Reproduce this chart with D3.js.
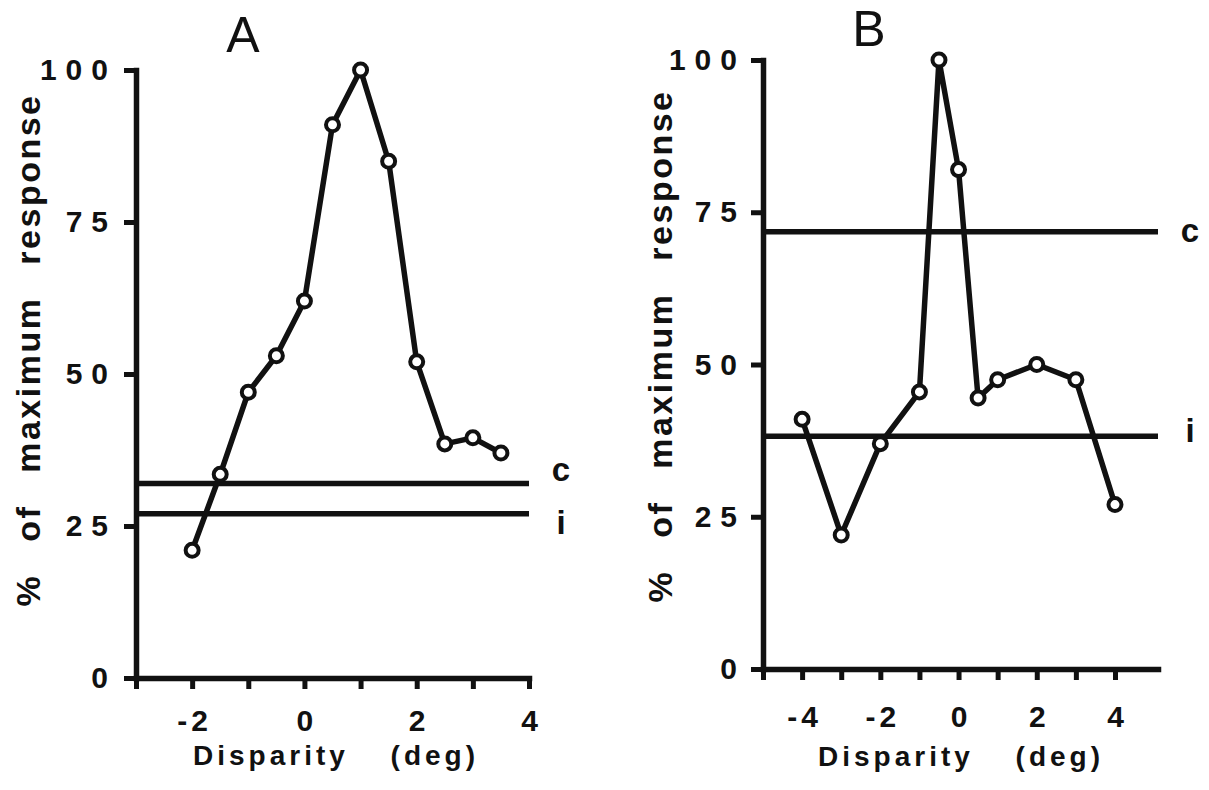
<!DOCTYPE html>
<html>
<head>
<meta charset="utf-8">
<script src="https://cdn.jsdelivr.net/npm/d3@7"></script>
<style>
  html, body { margin: 0; padding: 0; background: #fff; }
  svg { display: block; }
  text { font-family: "Liberation Sans", Arial, Helvetica, sans-serif; fill: #111; }
</style>
</head>
<body>
<script>
// Disparity tuning curves: normalised response vs. binocular disparity
const disparityA = [-2, -1.5, -1, -0.5, 0, 0.5, 1, 1.5, 2, 2.5, 3, 3.5];
const responseA  = [21, 33.5, 47, 53, 62, 91, 100, 85, 52, 38.5, 39.5, 37];

const disparityB = [-4, -3, -2, -1, -0.5, 0, 0.5, 1, 2, 3, 4];
const responseB  = [41, 22, 37, 45.5, 100, 82, 44.5, 47.5, 50, 47.5, 27];

// monocular reference levels: contralateral (c) and ipsilateral (i) eye
const refNames   = ["c", "i"];
const refLevelsA = [32, 27];
const refLevelsB = [71.8, 38.2];

// axis ticks and labels
const yTicks   = [0, 25, 50, 75, 100];
const xTicksA  = [-3, -2, -1, 0, 1, 2, 3, 4];
const xLabelsA = [-2, 0, 2, 4];
const xTicksB  = [-5, -4, -3, -2, -1, 0, 1, 2, 3, 4];
const xLabelsB = [-4, -2, 0, 2, 4];

const W = 1209, H = 790;
const ink = "#111";

const svg = d3.select("body").append("svg")
  .attr("width", W).attr("height", H)
  .attr("viewBox", `0 0 ${W} ${H}`);

function drawPanel(cfg) {
  const g = svg.append("g");
  const x = d3.scaleLinear().domain(cfg.xDomain).range(cfg.xRange);
  const y = d3.scaleLinear().domain([0, 100]).range(cfg.yRange);

  const fmt = d => cfg.xLabels.includes(d) ? (d < 0 ? "-" + Math.abs(d) : String(d)) : "";

  // x axis
  const xAxis = g.append("g")
    .attr("transform", `translate(0,${y(0)})`)
    .call(d3.axisBottom(x).tickValues(cfg.xTicks).tickSize(11).tickSizeOuter(0)
      .tickPadding(cfg.xPad).tickFormat(fmt));
  // y axis
  const yAxis = g.append("g")
    .attr("transform", `translate(${x(cfg.xDomain[0])},0)`)
    .call(d3.axisLeft(y).tickValues(yTicks).tickSize(12).tickSizeOuter(0)
      .tickPadding(cfg.yPad).tickFormat(d => String(d)));

  [xAxis, yAxis].forEach(a => {
    a.select(".domain").attr("stroke", ink).attr("stroke-width", 5.5).attr("stroke-linecap", "square");
    a.selectAll(".tick line").attr("stroke", ink).attr("stroke-width", 5);
    a.selectAll(".tick text")
      .attr("fill", ink)
      .style("font-size", "30px").style("font-weight", "bold");
  });
  xAxis.selectAll(".tick text").style("letter-spacing", "4px").attr("dx", "2");
  yAxis.selectAll(".tick text").style("letter-spacing", "9px");

  // reference levels
  cfg.refLevels.forEach((v, k) => {
    g.append("line")
      .attr("x1", x(cfg.xDomain[0])).attr("x2", x(cfg.xDomain[1]))
      .attr("y1", y(v)).attr("y2", y(v))
      .attr("stroke", ink).attr("stroke-width", 5.5);
    g.append("text")
      .attr("x", cfg.refLabelX).attr("y", y(v) + cfg.refLabelDy[k])
      .attr("text-anchor", "middle")
      .style("font-size", "33px").style("font-weight", "bold")
      .text(refNames[k]);
  });

  // tuning curve
  const pts = cfg.xs.map((d, k) => [d, cfg.ys[k]]);
  g.append("path")
    .datum(pts)
    .attr("fill", "none").attr("stroke", ink).attr("stroke-width", 5.5)
    .attr("stroke-linejoin", "round")
    .attr("d", d3.line().x(d => x(d[0])).y(d => y(d[1])));
  g.selectAll("circle.pt").data(pts).join("circle")
    .attr("class", "pt")
    .attr("cx", d => x(d[0])).attr("cy", d => y(d[1]))
    .attr("r", 6.5).attr("fill", "#fff").attr("stroke", ink).attr("stroke-width", 4);

  // axis titles
  g.append("text")
    .attr("transform", `translate(${cfg.yTitle[0]},${cfg.yTitle[1]}) rotate(-90)`)
    .attr("text-anchor", "middle").attr("dominant-baseline", "central")
    .style("font-size", "34px").style("font-weight", "bold")
    .style("letter-spacing", "2.5px").style("word-spacing", "20px")
    .text("% of maximum response");
  g.append("text")
    .attr("x", cfg.xTitle[0]).attr("y", cfg.xTitle[1])
    .attr("text-anchor", "middle")
    .style("font-size", "28px").style("font-weight", "bold")
    .style("letter-spacing", "4px").style("word-spacing", "30px")
    .text("Disparity (deg)");

  // panel letter
  g.append("text")
    .attr("x", cfg.letterPos[0]).attr("y", cfg.letterPos[1])
    .attr("text-anchor", "middle")
    .style("font-size", "50px")
    .text(cfg.letter);
}

drawPanel({
  letter: "A", letterPos: [243, 52],
  xs: disparityA, ys: responseA,
  xDomain: [-3, 4], xRange: [136, 529], yRange: [678, 70],
  xTicks: xTicksA, xLabels: xLabelsA, xPad: 21, yPad: 7,
  refLevels: refLevelsA, refLabelX: 561, refLabelDy: [-2, 20],
  yTitle: [28, 350], xTitle: [336, 765]
});

drawPanel({
  letter: "B", letterPos: [869, 46],
  xs: disparityB, ys: responseB,
  xDomain: [-5, 5.1], xRange: [763, 1158], yRange: [669, 60],
  xTicks: xTicksB, xLabels: xLabelsB, xPad: 26, yPad: 5,
  refLevels: refLevelsB, refLabelX: 1190, refLabelDy: [10, 6],
  yTitle: [660, 346], xTitle: [961, 766]
});
</script>
</body>
</html>
